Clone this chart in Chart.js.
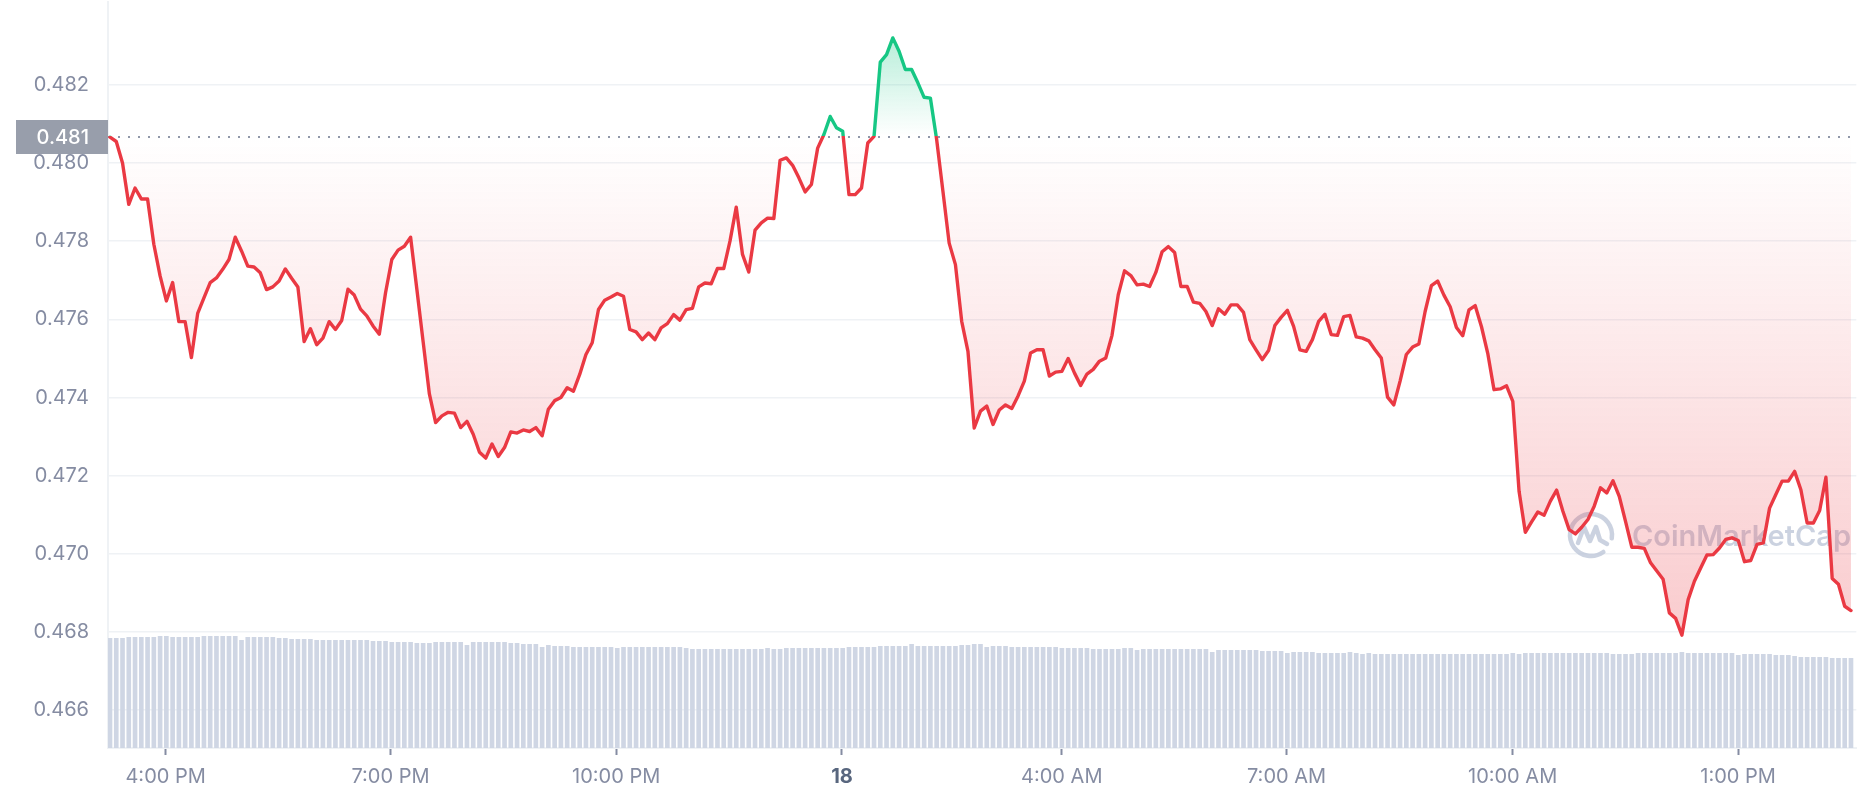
<!DOCTYPE html>
<html>
<head>
<meta charset="utf-8">
<script src="https://cdn.jsdelivr.net/npm/chart.js@4.4.1/dist/chart.umd.min.js"></script>
<style>
html,body{margin:0;padding:0;background:#ffffff;}
canvas{display:block;}
</style>
</head>
<body>
<canvas id="c" width="1858" height="800"></canvas>
<script>
// ---- data (5-minute samples, index 0 = first sample) ----
const PRICES = [
0.48066,0.48055,0.48000,0.47894,0.47936,0.47908,0.47908,0.47792,0.47711,0.47647,
0.47694,0.47594,0.47594,0.47502,0.47615,0.47655,0.47694,0.47706,0.47728,0.47753,
0.47810,0.47775,0.47736,0.47734,0.47719,0.47676,0.47683,0.47698,0.47729,0.47705,
0.47683,0.47543,0.47576,0.47535,0.47552,0.47594,0.47574,0.47597,0.47677,0.47662,
0.47626,0.47609,0.47583,0.47562,0.47668,0.47753,0.47777,0.47787,0.47810,0.47677,
0.47543,0.47409,0.47336,0.47353,0.47362,0.47360,0.47323,0.47339,0.47306,0.47260,
0.47245,0.47281,0.47249,0.47272,0.47312,0.47309,0.47317,0.47313,0.47323,0.47302,
0.47370,0.47392,0.47400,0.47425,0.47416,0.47459,0.47510,0.47540,0.47625,0.47649,
0.47657,0.47666,0.47659,0.47574,0.47568,0.47548,0.47565,0.47548,0.47578,0.47589,
0.47612,0.47598,0.47625,0.47628,0.47683,0.47693,0.47691,0.47730,0.47730,0.47800,
0.47887,0.47766,0.47721,0.47828,0.47847,0.47859,0.47858,0.48007,0.48013,0.47994,
0.47962,0.47926,0.47945,0.48038,0.48073,0.48119,0.48090,0.48081,0.47919,0.47919,
0.47936,0.48051,0.48068,0.48258,0.48277,0.48320,0.48286,0.48239,0.48239,0.48205,
0.48168,0.48166,0.48060,0.47928,0.47795,0.47740,0.47595,0.47518,0.47322,0.47365,
0.47378,0.47331,0.47368,0.47381,0.47372,0.47404,0.47442,0.47514,0.47522,0.47522,
0.47455,0.47465,0.47467,0.47500,0.47463,0.47431,0.47460,0.47472,0.47493,0.47501,
0.47559,0.47663,0.47724,0.47712,0.47688,0.47690,0.47684,0.47720,0.47773,0.47786,
0.47771,0.47684,0.47684,0.47644,0.47641,0.47620,0.47584,0.47627,0.47613,0.47637,
0.47637,0.47618,0.47548,0.47522,0.47497,0.47520,0.47584,0.47605,0.47623,0.47582,
0.47522,0.47518,0.47548,0.47595,0.47613,0.47561,0.47559,0.47607,0.47610,0.47555,
0.47552,0.47545,0.47522,0.47501,0.47401,0.47381,0.47442,0.47510,0.47529,0.47537,
0.47620,0.47686,0.47698,0.47662,0.47632,0.47579,0.47558,0.47624,0.47635,0.47581,
0.47513,0.47420,0.47422,0.47430,0.47390,0.47160,0.47055,0.47082,0.47107,0.47099,
0.47135,0.47163,0.47109,0.47062,0.47051,0.47068,0.47088,0.47122,0.47169,0.47156,
0.47187,0.47147,0.47083,0.47017,0.47017,0.47014,0.46977,0.46956,0.46935,0.46849,
0.46835,0.46792,0.46883,0.46930,0.46964,0.46997,0.46998,0.47015,0.47037,0.47041,
0.47034,0.46980,0.46983,0.47024,0.47028,0.47117,0.47152,0.47186,0.47186,0.47211,
0.47164,0.47079,0.47079,0.47111,0.47196,0.46937,0.46922,0.46866,0.46855
];
const VOLUMES = [
10.98,10.98,10.98,11.08,11.08,11.08,11.08,11.08,11.18,11.18,
11.08,11.08,11.08,11.08,11.08,11.18,11.18,11.18,11.18,11.18,
11.18,10.78,11.08,11.08,11.08,11.08,11.08,10.98,10.98,10.88,
10.88,10.88,10.88,10.78,10.78,10.78,10.78,10.78,10.78,10.78,
10.78,10.78,10.68,10.68,10.68,10.58,10.58,10.58,10.58,10.48,
10.48,10.48,10.58,10.58,10.58,10.58,10.58,10.28,10.58,10.58,
10.58,10.58,10.58,10.58,10.48,10.48,10.38,10.38,10.38,10.08,
10.28,10.18,10.18,10.18,10.08,10.08,10.08,10.08,10.08,10.08,
10.08,9.98,10.08,10.08,10.08,10.08,10.08,10.08,10.08,10.08,
10.08,10.08,9.98,9.88,9.88,9.88,9.88,9.88,9.88,9.88,
9.88,9.88,9.88,9.88,9.88,9.98,9.88,9.88,9.98,9.98,
9.98,9.98,9.98,9.98,9.98,9.98,9.98,9.98,10.08,10.08,
10.08,10.08,10.08,10.18,10.18,10.18,10.18,10.18,10.38,10.18,
10.18,10.18,10.18,10.18,10.18,10.18,10.28,10.28,10.38,10.38,
10.08,10.18,10.18,10.18,10.08,10.08,10.08,10.08,10.08,10.08,
10.08,10.08,9.98,9.98,9.98,9.98,9.98,9.88,9.88,9.88,
9.88,9.88,9.98,9.98,9.78,9.88,9.88,9.88,9.88,9.88,
9.88,9.88,9.88,9.88,9.88,9.88,9.58,9.78,9.78,9.78,
9.78,9.78,9.78,9.78,9.68,9.68,9.68,9.68,9.48,9.58,
9.58,9.58,9.58,9.48,9.48,9.48,9.48,9.48,9.58,9.48,
9.38,9.48,9.38,9.38,9.38,9.38,9.38,9.38,9.38,9.38,
9.38,9.38,9.38,9.38,9.38,9.38,9.38,9.38,9.38,9.38,
9.38,9.38,9.38,9.38,9.48,9.38,9.48,9.48,9.48,9.48,
9.48,9.48,9.48,9.48,9.48,9.48,9.48,9.48,9.48,9.48,
9.38,9.38,9.38,9.38,9.48,9.48,9.48,9.48,9.48,9.48,
9.48,9.58,9.48,9.48,9.48,9.48,9.48,9.48,9.48,9.48,
9.28,9.38,9.38,9.38,9.38,9.38,9.28,9.28,9.28,9.18,
9.08,9.08,9.08,9.08,9.08,8.98,8.98,8.98,8.98
];
const REF_PRICE = 0.48066;
const REF_LABEL = '0.481';
const Y_TICKS = [0.466,0.468,0.470,0.472,0.474,0.476,0.478,0.480,0.482];
const X_TICK_POS = [8.885,44.78,80.83,116.88,151.98,187.87,223.97,259.98];
const X_TICK_LABELS = ['4:00 PM','7:00 PM','10:00 PM','18','4:00 AM','7:00 AM','10:00 AM','1:00 PM'];
const X_RANGE = [-0.319, 278.85];
const Y_RANGE = [0.465033, 0.484126];
const VOL_MAX = 74.8;

const RED = '#ea3943';
const GREEN = '#16c784';
const LABEL = '#858ca2';
const GRID = '#eff2f5';
const FONT = 'Inter';

const overlay = {
  id: 'overlay',
  beforeDatasetsDraw(chart) {
    const ctx = chart.ctx;
    const area = chart.chartArea;
    const ys = chart.scales.y;
    // watermark
    ctx.save();
    const cx = 1591, cy = 535, r = 21;
    ctx.strokeStyle = 'rgba(186,195,213,0.75)';
    ctx.lineWidth = 4.5;
    ctx.lineCap = 'round';
    ctx.lineJoin = 'round';
    ctx.beginPath();
    ctx.arc(cx, cy, r, 0.30 * Math.PI, 2.05 * Math.PI);
    ctx.stroke();
    ctx.beginPath();
    ctx.moveTo(cx - 13, cy + 8);
    ctx.lineTo(cx - 7, cy - 8);
    ctx.lineTo(cx - 1, cy + 6);
    ctx.lineTo(cx + 5, cy - 8);
    ctx.lineTo(cx + 9, cy + 5);
    ctx.lineTo(cx + 16, cy + 9);
    ctx.stroke();
    ctx.fillStyle = 'rgba(186,195,213,0.75)';
    ctx.font = '600 29px ' + FONT;
    ctx.textAlign = 'left';
    ctx.textBaseline = 'middle';
    ctx.fillText('CoinMarketCap', 1632, 537);
    ctx.restore();
    // dotted reference line
    const py = Math.round(ys.getPixelForValue(REF_PRICE));
    ctx.save();
    ctx.strokeStyle = '#8f97a8';
    ctx.lineWidth = 2;
    ctx.setLineDash([2, 8]);
    ctx.beginPath();
    ctx.moveTo(area.left, py);
    ctx.lineTo(area.right, py);
    ctx.stroke();
    ctx.restore();
  },
  afterDraw(chart) {
    const ctx = chart.ctx;
    const area = chart.chartArea;
    const py = chart.scales.y.getPixelForValue(REF_PRICE);
    ctx.save();
    ctx.fillStyle = '#989eab';
    ctx.fillRect(16, Math.round(py - 17), area.left - 16, 34);
    ctx.fillStyle = '#ffffff';
    ctx.font = '500 20px ' + FONT;
    ctx.textAlign = 'right';
    ctx.textBaseline = 'middle';
    ctx.fillText(REF_LABEL, 89, py + 1);
    ctx.restore();
  }
};

const canvasEl = document.getElementById('c');
const chart = new Chart(canvasEl, {
  data: {
    datasets: [
      {
        type: 'line',
        data: PRICES.map((v, i) => ({x: i, y: v})),
        yAxisID: 'y',
        borderColor: RED,
        borderWidth: 3.4,
        pointRadius: 0,
        tension: 0,
        borderJoinStyle: 'round',
        borderCapStyle: 'round',
        fill: false,
        order: 0
      },
      {
        type: 'bar',
        data: VOLUMES.map((v, i) => ({x: i, y: v})),
        yAxisID: 'yv',
        backgroundColor: '#cfd6e4',
        barThickness: 4,
        order: 1
      }
    ]
  },
  options: {
    responsive: false,
    devicePixelRatio: 1,
    animation: false,
    layout: {padding: 0},
    plugins: {legend: {display: false}, tooltip: {enabled: false}},
    scales: {
      x: {
        type: 'linear',
        min: X_RANGE[0],
        max: X_RANGE[1],
        offset: false,
        afterBuildTicks: (s) => { s.ticks = X_TICK_POS.map(v => ({value: v})); },
        afterFit: (s) => { s.height = 52; s.paddingLeft = 0; s.paddingRight = 0; },
        grid: {display: true, offset: false, drawOnChartArea: false, drawTicks: true, tickLength: 7, tickWidth: 2, tickColor: LABEL},
        border: {display: true, color: GRID, width: 2},
        ticks: {
          autoSkip: false,
          maxRotation: 0,
          padding: 10,
          callback: (v, i) => X_TICK_LABELS[i],
          color: (c) => (X_TICK_LABELS[c.index] === '18') ? '#58667e' : LABEL,
          font: (c) => (X_TICK_LABELS[c.index] === '18') ? {family: FONT, size: 20, weight: '700'} : {family: FONT, size: 20}
        }
      },
      y: {
        type: 'linear',
        position: 'left',
        min: Y_RANGE[0],
        max: Y_RANGE[1],
        afterBuildTicks: (s) => { s.ticks = Y_TICKS.map(v => ({value: v})); },
        afterFit: (s) => { s.width = 108; s.paddingTop = 0; s.paddingBottom = 0; },
        grid: {color: GRID, lineWidth: 1.5, drawTicks: false},
        border: {display: true, color: GRID, width: 2},
        ticks: {
          padding: 19,
          color: LABEL,
          font: {family: FONT, size: 20},
          callback: (v) => Number(v).toFixed(3)
        }
      },
      yv: {
        type: 'linear',
        display: false,
        min: 0,
        max: VOL_MAX
      }
    }
  },
  plugins: [overlay]
});

// gradients depend on the laid-out chart area
const g2d = canvasEl.getContext('2d');
const areaTop = chart.chartArea.top;
const areaBottom = chart.chartArea.bottom;
const refPx = chart.scales.y.getPixelForValue(REF_PRICE);
const frac = Math.min(1, Math.max(0, (refPx - areaTop) / (areaBottom - areaTop)));
const lineGrad = g2d.createLinearGradient(0, areaTop, 0, areaBottom);
lineGrad.addColorStop(0, GREEN);
lineGrad.addColorStop(frac, GREEN);
lineGrad.addColorStop(frac, RED);
lineGrad.addColorStop(1, RED);
const aboveGrad = g2d.createLinearGradient(0, areaTop, 0, refPx);
aboveGrad.addColorStop(0, 'rgba(22,199,132,0.42)');
aboveGrad.addColorStop(1, 'rgba(22,199,132,0)');
const belowGrad = g2d.createLinearGradient(0, refPx, 0, areaBottom);
belowGrad.addColorStop(0, 'rgba(234,57,67,0)');
belowGrad.addColorStop(1, 'rgba(234,57,67,0.32)');
const ds0 = chart.data.datasets[0];
ds0.borderColor = lineGrad;
ds0.fill = {target: {value: REF_PRICE}, above: aboveGrad, below: belowGrad};
chart.update('none');
</script>
</body>
</html>
